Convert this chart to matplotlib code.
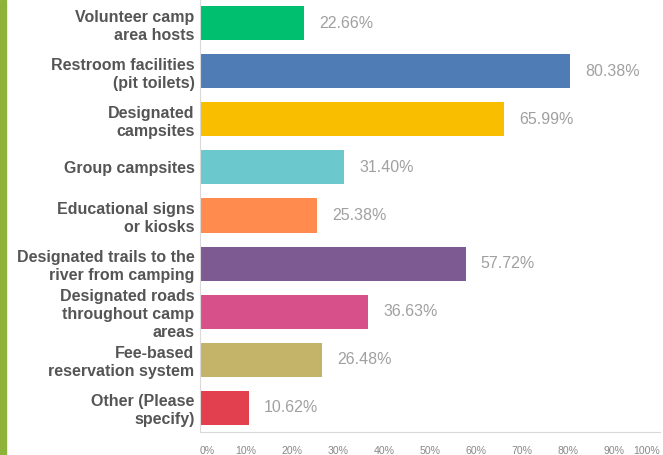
import matplotlib
matplotlib.use("Agg")
import matplotlib.pyplot as plt
from matplotlib.patches import Rectangle

categories = [
    "Volunteer camp\narea hosts",
    "Restroom facilities\n(pit toilets)",
    "Designated\ncampsites",
    "Group campsites",
    "Educational signs\nor kiosks",
    "Designated trails to the\nriver from camping",
    "Designated roads\nthroughout camp\nareas",
    "Fee-based\nreservation system",
    "Other (Please\nspecify)",
]
values = [22.66, 80.38, 65.99, 31.40, 25.38, 57.72, 36.63, 26.48, 10.62]
colors = ["#00BF6F", "#507CB6", "#F9BE00", "#6BC8CD", "#FF8B4F",
          "#7D5A91", "#D7508A", "#C4B46A", "#E3404F"]
tick_values = [0, 10, 20, 30, 40, 50, 60, 70, 80, 90, 100]
tick_labels = [f"{t}%" for t in tick_values]

plt.rcParams['font.family'] = ['Liberation Sans', 'DejaVu Sans']

fig = plt.figure(figsize=(6.63, 4.55), dpi=100)
ax = fig.add_axes([200/663, 23/455, 460/663, 433/455])

y = list(range(len(categories)))
ax.barh(y, values, height=0.71, color=colors)
ax.set_ylim(8.5, -0.5)
ax.set_xlim(0, 100)

for yi, v in zip(y, values):
    ax.annotate(f"{v:.2f}%", (v, yi), xytext=(11, 0), textcoords="offset points",
                va="center", ha="left", fontsize=11.5, color="#a0a0a0")

ax.set_yticks(y)
ax.set_yticklabels(categories, fontsize=11.5, fontweight="bold", color="#555555",
                   linespacing=1.25)
ax.tick_params(axis="y", length=0, pad=4)
ax.set_xticks(tick_values)
ax.set_xticklabels(tick_labels, fontsize=7.6, color="#888888")
ax.tick_params(axis="x", length=0, pad=10)
xt = ax.get_xticklabels()
xt[0].set_ha("left")
xt[-1].set_ha("right")

for s in ["top", "right"]:
    ax.spines[s].set_visible(False)
ax.spines["left"].set_color("#d9d9d9")
ax.spines["bottom"].set_color("#d9d9d9")

fig.patches.append(Rectangle((0, 0), 6/663, 1, transform=fig.transFigure,
                             color="#8DB33A", zorder=0))

fig.savefig("out.png", dpi=100)
